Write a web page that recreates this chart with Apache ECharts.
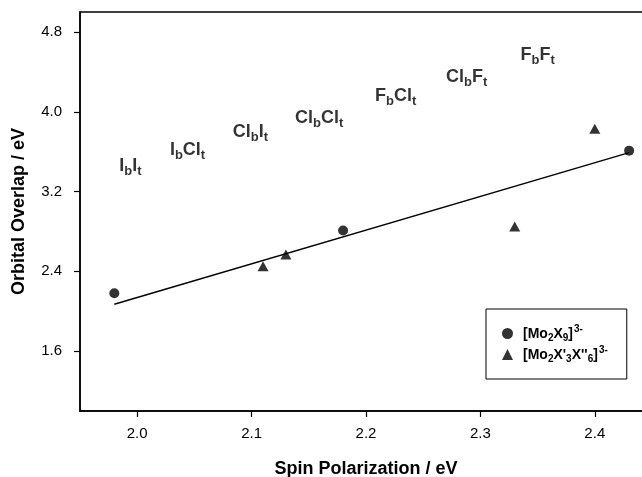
<!DOCTYPE html>
<html>
<head>
<meta charset="utf-8">
<script src="https://cdn.jsdelivr.net/npm/echarts@6/dist/echarts.min.js"></script>
<style>
  html, body { margin: 0; padding: 0; background: #fff; }
  #chart { width: 642px; height: 477px; }
</style>
</head>
<body>
<div id="chart"></div>
<script>
// data
var circleX = [1.98, 2.18, 2.43];
var circleY = [2.18, 2.81, 3.61];
var triX = [2.11, 2.13, 2.33, 2.40];
var triY = [2.45, 2.57, 2.85, 3.83];
// regression line end points
var fitX = [1.98, 2.43];
var fitY = [2.07, 3.59];
// halide labels (b = bridging, t = terminal)
var tagNames = ['I_bI_t', 'I_bCl_t', 'Cl_bI_t', 'Cl_bCl_t', 'F_bCl_t', 'Cl_bF_t', 'F_bF_t'];
var tagX = [1.994, 2.044, 2.099, 2.159, 2.226, 2.288, 2.350];
var tagY = [3.44, 3.60, 3.78, 3.92, 4.14, 4.33, 4.55];
var xTicks = [2.0, 2.1, 2.2, 2.3, 2.4];
var yTicks = [1.6, 2.4, 3.2, 4.0, 4.8];
var seriesNames = ['[Mo_2X_9]^3-', "[Mo_2X'_3X''_6]^3-"];

var FONT = '"Liberation Sans", Arial, sans-serif';

function zip(xs, ys) {
  return xs.map(function (x, i) { return [x, ys[i]]; });
}

// "_x" -> subscript, "^xx" -> superscript
function toRich(s, big, small, sup) {
  return s.split(/(_.|\^\S+)/).filter(Boolean).map(function (p) {
    if (p[0] === '_') return '{' + small + '|' + p.slice(1) + '}';
    if (p[0] === '^') return '{' + sup + '|' + p.slice(1) + '}';
    return '{' + big + '|' + p + '}';
  }).join('');
}

var myChart = echarts.init(document.getElementById('chart'));

var option = {
  animation: false,
  textStyle: { fontFamily: FONT, color: '#000' },
  grid: {
    show: true, left: 80, top: 12, width: 572, height: 399,
    outerBoundsMode: 'none', containLabel: false,
    borderColor: '#000', borderWidth: 1.5, backgroundColor: 'transparent'
  },
  xAxis: {
    type: 'value', min: 1.95, max: 2.45,
    name: 'Spin Polarization / eV', nameLocation: 'middle', nameGap: 49,
    nameTextStyle: { fontSize: 18, fontWeight: 'bold', color: '#000', fontFamily: FONT },
    axisLine: { lineStyle: { color: '#000', width: 1.5 } },
    axisTick: { show: true, length: 6, lineStyle: { color: '#000', width: 1.2 }, customValues: xTicks },
    axisLabel: {
      customValues: xTicks, margin: 15, fontSize: 15, color: '#000', fontFamily: FONT,
      formatter: function (v) { return v.toFixed(1); }
    },
    splitLine: { show: false }
  },
  yAxis: {
    type: 'value', min: 1.0, max: 5.0,
    name: 'Orbital Overlap / eV', nameLocation: 'middle', nameGap: 52, nameRotate: 90,
    nameTextStyle: { fontSize: 18, fontWeight: 'bold', color: '#000', fontFamily: FONT },
    axisLine: { show: true, lineStyle: { color: '#000', width: 1.5 } },
    axisTick: { show: true, length: 6, lineStyle: { color: '#000', width: 1.2 }, customValues: yTicks },
    axisLabel: {
      customValues: yTicks, margin: 18, fontSize: 15, color: '#000', fontFamily: FONT,
      formatter: function (v) { return v.toFixed(1); }
    },
    splitLine: { show: false }
  },
  legend: {
    orient: 'vertical', left: 486, top: 309,
    data: seriesNames,
    itemWidth: 11, itemHeight: 11, itemGap: 2,
    padding: [15, 19, 15, 16],
    borderColor: '#000', borderWidth: 1,
    formatter: function (n) { return toRich(n, 'm', 's', 'p'); },
    textStyle: {
      fontFamily: FONT,
      padding: [0, 0, 0, 5],
      rich: {
        m: { fontSize: 14, fontWeight: 'bold', color: '#000', verticalAlign: 'top', padding: [3, 0, 0, 0] },
        s: { fontSize: 10, fontWeight: 'bold', color: '#000', verticalAlign: 'top', padding: [9, 0, 0, 0] },
        p: { fontSize: 10, fontWeight: 'bold', color: '#000', verticalAlign: 'top', padding: [0, 0, 0, 1] }
      }
    }
  },
  series: [
    {
      name: seriesNames[0], type: 'scatter', symbol: 'circle', symbolSize: 10,
      itemStyle: { color: '#000' }, data: zip(circleX, circleY), z: 3
    },
    {
      name: seriesNames[1], type: 'scatter', symbol: 'triangle', symbolSize: [11, 10],
      itemStyle: { color: '#000' }, data: zip(triX, triY), z: 3
    },
    {
      name: 'fit', type: 'line', symbol: 'none', silent: true,
      lineStyle: { color: '#000', width: 1.4 }, data: zip(fitX, fitY), z: 2
    },
    {
      name: 'tags', type: 'scatter', symbolSize: 1, silent: true,
      itemStyle: { color: 'transparent' },
      data: tagNames.map(function (t, i) { return { value: [tagX[i], tagY[i]], name: t }; }),
      label: {
        show: true, position: 'inside',
        formatter: function (p) { return toRich(p.name, 'm', 's', 'p'); },
        rich: {
          m: { fontSize: 18, fontWeight: 'bold', color: '#000', fontFamily: FONT, verticalAlign: 'top', padding: [0, 0, 0, 0] },
          s: { fontSize: 13, fontWeight: 'bold', color: '#000', fontFamily: FONT, verticalAlign: 'top', padding: [8, 0, 0, 0] }
        }
      }
    }
  ]
};

myChart.setOption(option);
</script>
</body>
</html>
